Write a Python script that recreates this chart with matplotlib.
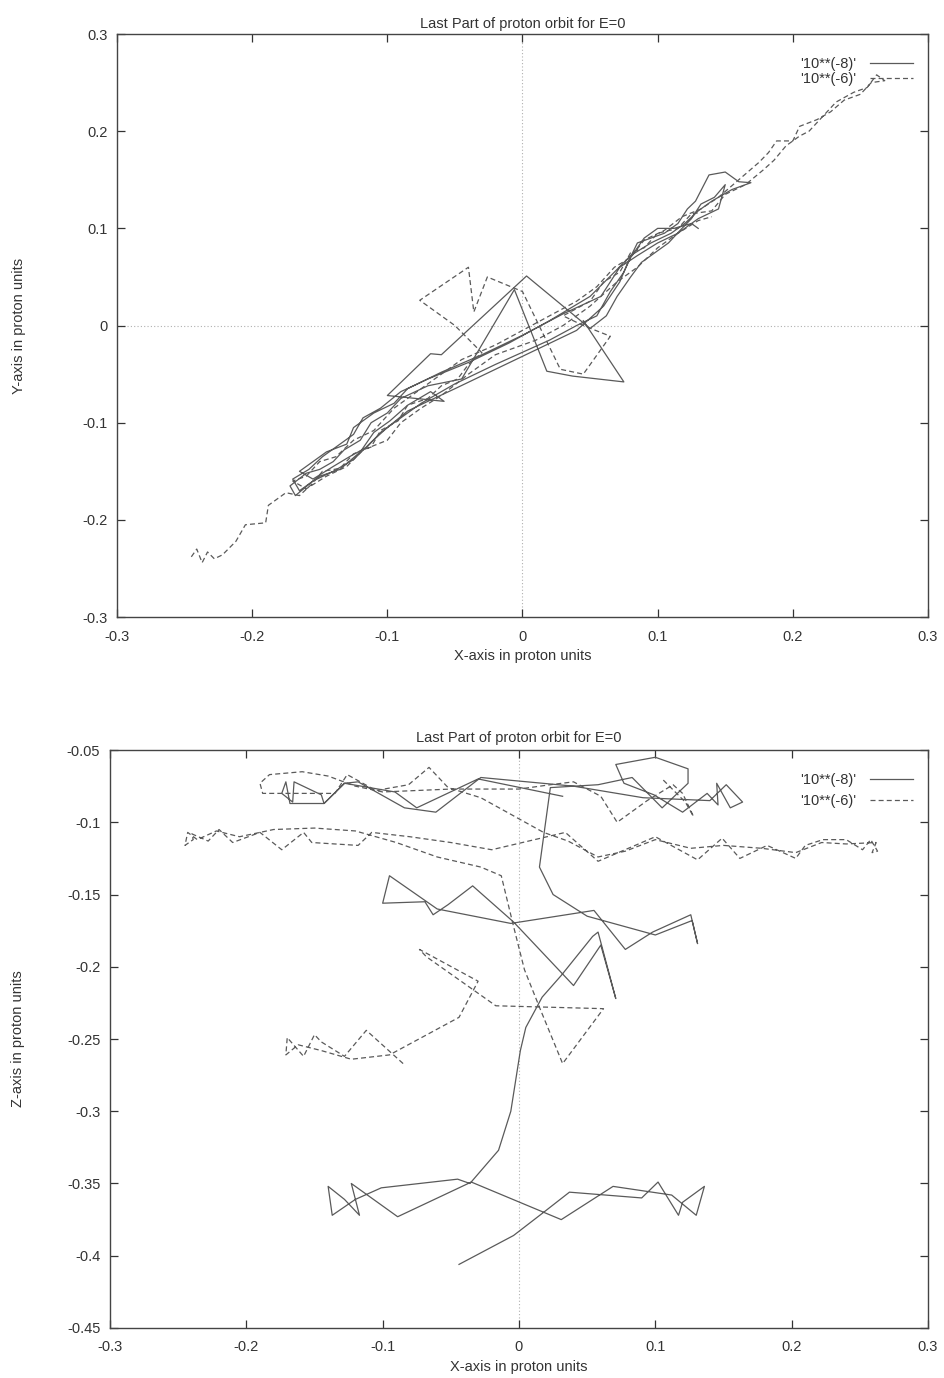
import numpy as np
import matplotlib
matplotlib.use("Agg")
import matplotlib.pyplot as plt
from matplotlib.ticker import FormatStrFormatter, MultipleLocator

plt.rcParams['font.family'] = ['Liberation Sans', 'DejaVu Sans']

# ---- data (proton units) ----
# X-Y projection, step 10**(-8) (solid)
xy8_x = [0.045, 0.075, 0.037, 0.018, -0.006, -0.045, -0.070, -0.090, -0.100, -0.112, -0.120, -0.132,
         -0.140, -0.150, -0.160, -0.172, -0.168, -0.155, -0.140, -0.125, -0.112, -0.100, -0.085, -0.070,
         -0.050, -0.020, 0.010, 0.040, 0.060, 0.072, 0.078, 0.085, 0.095, 0.105, 0.115, 0.122, 0.128,
         0.138, 0.150, 0.160, 0.169, 0.155, 0.140, 0.130, 0.120, 0.110, 0.095, 0.080, 0.068, 0.050,
         0.020, -0.010, -0.040, -0.070, -0.090, -0.105, -0.118, -0.125, -0.138, -0.148, -0.158, -0.170,
         -0.165, -0.150, -0.135, -0.120, -0.110, -0.098, -0.085, -0.068, -0.058, -0.100, -0.068, -0.060,
         0.003, 0.050, 0.062, 0.070, 0.080, 0.088, 0.098, 0.108, 0.118, 0.125, 0.132, 0.142, 0.150,
         0.145, 0.130, 0.115, 0.100, 0.085, 0.072, 0.058, 0.030, 0.000, -0.030, -0.060, -0.085, -0.095,
         -0.110, -0.125, -0.130, -0.145, -0.155, -0.165, -0.155, -0.140, -0.128, -0.115, -0.105, -0.090,
         -0.075, -0.050, -0.020, 0.020, 0.040, 0.055, 0.065, 0.075, 0.080, 0.090, 0.100, 0.112, 0.125,
         0.130]
xy8_y = [0.005, -0.058, -0.052, -0.047, 0.037, -0.055, -0.062, -0.075, -0.090, -0.100, -0.118, -0.128,
         -0.140, -0.148, -0.152, -0.165, -0.175, -0.160, -0.150, -0.138, -0.120, -0.105, -0.088, -0.078,
         -0.065, -0.045, -0.025, -0.005, 0.020, 0.045, 0.065, 0.085, 0.090, 0.095, 0.105, 0.120, 0.128,
         0.155, 0.158, 0.148, 0.147, 0.140, 0.128, 0.118, 0.105, 0.095, 0.085, 0.072, 0.055, 0.030,
         0.005, -0.018, -0.038, -0.055, -0.068, -0.085, -0.095, -0.112, -0.125, -0.135, -0.148, -0.158,
         -0.170, -0.155, -0.148, -0.130, -0.110, -0.098, -0.082, -0.068, -0.078, -0.072, -0.029, -0.030,
         0.051, -0.003, 0.010, 0.030, 0.050, 0.065, 0.075, 0.085, 0.100, 0.110, 0.125, 0.132, 0.145,
         0.120, 0.110, 0.095, 0.085, 0.072, 0.060, 0.030, 0.012, -0.010, -0.030, -0.048, -0.065, -0.080,
         -0.090, -0.105, -0.122, -0.130, -0.140, -0.150, -0.158, -0.145, -0.135, -0.125, -0.110, -0.095,
         -0.080, -0.060, -0.040, -0.015, 0.000, 0.010, 0.035, 0.055, 0.070, 0.090, 0.100, 0.100, 0.105,
         0.100]

# X-Y projection, step 10**(-6) (dashed)
xy6_x = [-0.245, -0.241, -0.237, -0.233, -0.228, -0.222, -0.212, -0.205, -0.190, -0.188, -0.175, -0.165,
         -0.155, -0.148, -0.135, -0.125, -0.112, -0.105, -0.092, -0.085, -0.070, -0.060, -0.048, -0.040,
         -0.030, -0.050, -0.076, -0.040, -0.036, -0.026, 0.000, 0.028, 0.045, 0.065, 0.045, 0.030, 0.050,
         0.060, 0.072, 0.080, 0.090, 0.100, 0.115, 0.125, 0.140, 0.150, 0.165, 0.178, 0.186, 0.195, 0.205,
         0.212, 0.222, 0.232, 0.245, 0.255, 0.262, 0.268, 0.258, 0.250, 0.238, 0.228, 0.218, 0.205, 0.200,
         0.188, 0.182, 0.175, 0.160, 0.145, 0.132, 0.118, 0.105, 0.090, 0.080, 0.068, 0.055, 0.040, 0.020,
         0.000, -0.020, -0.045, -0.065, -0.080, -0.095, -0.110, -0.125, -0.138, -0.150, -0.160, -0.170,
         -0.160, -0.145, -0.130, -0.118, -0.100, -0.090, -0.075, -0.060, -0.040, -0.020, 0.010, 0.030,
         0.050, 0.070, 0.085, 0.100, 0.115, 0.130, 0.140]
xy6_y = [-0.238, -0.230, -0.244, -0.233, -0.240, -0.236, -0.222, -0.205, -0.203, -0.185, -0.172, -0.175,
         -0.162, -0.150, -0.147, -0.132, -0.125, -0.108, -0.098, -0.082, -0.075, -0.062, -0.055, -0.040,
         -0.028, 0.000, 0.026, 0.060, 0.014, 0.050, 0.035, -0.045, -0.050, -0.011, 0.000, 0.010, 0.025,
         0.045, 0.055, 0.075, 0.080, 0.095, 0.100, 0.115, 0.118, 0.135, 0.145, 0.160, 0.170, 0.185, 0.195,
         0.200, 0.215, 0.230, 0.240, 0.245, 0.258, 0.252, 0.250, 0.238, 0.232, 0.220, 0.212, 0.205, 0.190,
         0.190, 0.178, 0.168, 0.150, 0.132, 0.120, 0.112, 0.098, 0.088, 0.070, 0.060, 0.040, 0.025, 0.010,
         -0.005, -0.020, -0.035, -0.055, -0.070, -0.085, -0.108, -0.118, -0.135, -0.140, -0.155, -0.160,
         -0.168, -0.155, -0.145, -0.128, -0.118, -0.100, -0.085, -0.072, -0.050, -0.030, -0.015, 0.000,
         0.020, 0.045, 0.060, 0.080, 0.095, 0.108, 0.112]

# X-Z projection, step 10**(-8) (solid)
xz8_x = [-0.044, -0.004, 0.018, 0.037, 0.090, 0.102, 0.117, 0.120, 0.136, 0.130, 0.112, 0.069, 0.031,
         -0.035, -0.089, -0.123, -0.117, -0.128, -0.140, -0.137, -0.120, -0.101, -0.045, -0.036, -0.015,
         -0.006, 0.001, 0.005, 0.017, 0.031, 0.054, 0.058, 0.071, 0.060, 0.040, -0.004, -0.034, -0.052,
         -0.063, -0.069, -0.100, -0.095, -0.060, -0.006, 0.055, 0.078, 0.098, 0.126, 0.131, 0.127, 0.100,
         0.050, 0.025, 0.015, 0.023, 0.058, 0.083, 0.105, 0.124, 0.124, 0.100, 0.071, 0.077, 0.099, 0.120,
         0.138, 0.146, 0.145, 0.155, 0.164, 0.152, 0.140, 0.091, 0.040, -0.028, -0.061, -0.084, -0.118,
         -0.128, -0.143, -0.168, -0.171, -0.174, -0.166, -0.165, -0.145, -0.143, -0.128, -0.091, -0.075,
         -0.030, 0.032]
xz8_z = [-0.406, -0.386, -0.370, -0.356, -0.360, -0.349, -0.372, -0.363, -0.352, -0.372, -0.358, -0.352,
         -0.375, -0.349, -0.373, -0.350, -0.372, -0.361, -0.352, -0.372, -0.361, -0.353, -0.347, -0.350,
         -0.327, -0.300, -0.258, -0.242, -0.221, -0.206, -0.179, -0.176, -0.222, -0.185, -0.213, -0.169,
         -0.144, -0.157, -0.164, -0.155, -0.156, -0.137, -0.160, -0.170, -0.161, -0.188, -0.176, -0.164,
         -0.184, -0.168, -0.178, -0.165, -0.150, -0.131, -0.076, -0.074, -0.069, -0.090, -0.073, -0.063,
         -0.055, -0.060, -0.073, -0.081, -0.093, -0.080, -0.088, -0.073, -0.090, -0.086, -0.074, -0.085,
         -0.083, -0.075, -0.069, -0.093, -0.090, -0.072, -0.073, -0.087, -0.087, -0.072, -0.080, -0.086,
         -0.072, -0.081, -0.087, -0.073, -0.079, -0.090, -0.070, -0.082]

# X-Z projection, step 10**(-6) (dashed)
xz6_x = [-0.085, -0.112, -0.128, -0.145, -0.150, -0.158, -0.170, -0.171, -0.162, -0.145, -0.123, -0.095,
         -0.044, -0.030, -0.073, -0.068, -0.017, 0.062, 0.032, 0.015, 0.004, -0.004, -0.013, -0.028, -0.060,
         -0.090, -0.120, -0.150, -0.180, -0.205, -0.222, -0.236, -0.243, -0.245, -0.239, -0.240, -0.228,
         -0.220, -0.210, -0.190, -0.174, -0.158, -0.152, -0.118, -0.108, -0.080, -0.050, -0.020, 0.034,
         0.058, 0.100, 0.131, 0.149, 0.162, 0.182, 0.203, 0.210, 0.223, 0.240, 0.252, 0.258, 0.263, 0.259,
         0.262, 0.240, 0.222, 0.203, 0.178, 0.150, 0.126, 0.100, 0.078, 0.058, 0.036, 0.018, -0.028,
         -0.052, -0.066, -0.081, -0.105, -0.126, -0.135, -0.159, -0.188, -0.190, -0.183, -0.159, -0.140,
         -0.120, -0.100, -0.050, 0.000, 0.023, 0.040, 0.060, 0.072, 0.094, 0.113, 0.120, 0.128, 0.122,
         0.105]
xz6_z = [-0.267, -0.244, -0.262, -0.252, -0.247, -0.262, -0.249, -0.261, -0.254, -0.258, -0.264, -0.261,
         -0.235, -0.210, -0.188, -0.193, -0.227, -0.229, -0.267, -0.228, -0.202, -0.172, -0.137, -0.131,
         -0.124, -0.114, -0.106, -0.104, -0.105, -0.110, -0.106, -0.112, -0.107, -0.116, -0.112, -0.108,
         -0.113, -0.105, -0.114, -0.107, -0.119, -0.107, -0.114, -0.116, -0.107, -0.110, -0.114, -0.119,
         -0.107, -0.127, -0.110, -0.126, -0.111, -0.125, -0.116, -0.125, -0.116, -0.112, -0.112, -0.119,
         -0.112, -0.120, -0.121, -0.114, -0.115, -0.114, -0.121, -0.118, -0.116, -0.118, -0.112, -0.120,
         -0.124, -0.113, -0.107, -0.083, -0.076, -0.062, -0.074, -0.078, -0.067, -0.080, -0.080, -0.080,
         -0.073, -0.067, -0.065, -0.068, -0.075, -0.079, -0.077, -0.077, -0.074, -0.072, -0.082, -0.100,
         -0.085, -0.074, -0.080, -0.096, -0.086, -0.070]

labels = ["'10**(-8)'", "'10**(-6)'"]
title = "Last Part of proton orbit for E=0"

line_col = '#5a5a5a'
txt_col = '#333333'


def style_axes(ax, ylim, ystep, title_pad, leg_spacing):
    ax.set_xlim(-0.3, 0.3)
    ax.set_ylim(*ylim)
    ax.xaxis.set_major_locator(MultipleLocator(0.1))
    ax.yaxis.set_major_locator(MultipleLocator(ystep))
    ax.xaxis.set_major_formatter(FormatStrFormatter('%g'))
    ax.yaxis.set_major_formatter(FormatStrFormatter('%g'))
    ax.tick_params(direction='in', length=6, width=0.9, top=True, right=True,
                   labelsize=10.5, colors=txt_col, pad=7)
    ax.tick_params(axis='x', pad=9)
    for s in ax.spines.values():
        s.set_color('#444444')
        s.set_linewidth(1.0)
    ax.axhline(0, color='#b0b0b0', lw=0.8, ls=(0, (1, 2)), zorder=0)
    ax.axvline(0, color='#b0b0b0', lw=0.8, ls=(0, (1, 2)), zorder=0)
    ax.set_title(title, fontsize=10.5, color=txt_col, pad=title_pad)
    ax.set_xlabel('X-axis in proton units', fontsize=10.5, color=txt_col, labelpad=4)
    leg = ax.legend(loc='upper right', bbox_to_anchor=(1.0, 0.985), frameon=False,
                    markerfirst=False, fontsize=10.5, handlelength=3.0, handletextpad=0.9,
                    labelspacing=leg_spacing, borderaxespad=0.6)
    for t in leg.get_texts():
        t.set_color(txt_col)


fig = plt.figure(figsize=(9.45, 13.78), dpi=100)

ax1 = fig.add_axes([0.1238, 0.5522, 0.982 - 0.1238, 0.9753 - 0.5522])
ax1.plot(xy8_x, xy8_y, color=line_col, lw=0.9, label=labels[0])
ax1.plot(xy6_x, xy6_y, color=line_col, lw=0.9, ls=(0, (4, 2.5)), label=labels[1])
style_axes(ax1, (-0.3, 0.3), 0.1, 4, 0.05)
ax1.set_ylabel('Y-axis in proton units', fontsize=10.5, color=txt_col, labelpad=40)

ax2 = fig.add_axes([0.1164, 0.0363, 0.982 - 0.1164, 0.4557 - 0.0363])
ax2.plot(xz8_x, xz8_z, color=line_col, lw=0.9, label=labels[0])
ax2.plot(xz6_x, xz6_z, color=line_col, lw=0.9, ls=(0, (4, 2.5)), label=labels[1])
style_axes(ax2, (-0.45, -0.05), 0.05, 6, 0.45)
ax2.set_ylabel('Z-axis in proton units', fontsize=10.5, color=txt_col, labelpad=30)

fig.savefig('out.png', dpi=100)
